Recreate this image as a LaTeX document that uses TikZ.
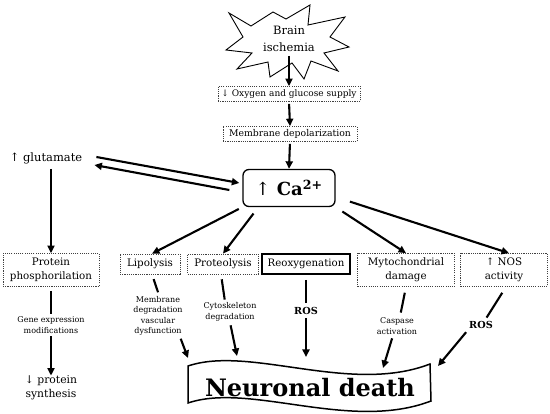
\documentclass[tikz,border=0pt]{standalone}
\usepackage{fontspec}
\setmainfont{DejaVu Serif}
\usetikzlibrary{arrows.meta}
\begin{document}
\begin{tikzpicture}[x=1pt,y=-1pt,
  dbox/.style={draw=black!75,dash pattern=on 1.1pt off 1.1pt,line width=0.7pt,inner sep=0pt,align=center,font=\fontsize{10.3}{14}\selectfont},
  lab/.style={align=center,inner sep=1pt,font=\fontsize{8}{10.5}\selectfont},
  ros/.style={inner sep=1pt,font=\fontsize{9.7}{13}\selectfont\bfseries},
  arr/.style={line width=2.1pt,-{Triangle[length=7.5pt,width=7pt]}},
  ln/.style={line width=2.1pt}]
\useasboundingbox (0,0) rectangle (550,414);

% star
\draw[line width=0.9pt,fill=white] (229,13) -- (251,26) -- (273,12) -- (286,19) -- (310,5) -- (308,25) -- (345,17) -- (330,37) -- (349,47) -- (324,53) -- (338,71) -- (311,61) -- (304,79) -- (292,63) -- (270,77) -- (268,62) -- (237,69) -- (252,53) -- (226,50) -- (243,37) -- cycle;
\node[align=center,inner sep=1pt,font=\fontsize{11.5}{17}\selectfont] (brain) at (289,39) {Brain\\ischemia};

\node[dbox,minimum width=142pt,minimum height=15pt,font=\fontsize{9}{12}\selectfont] (oxy) at (289,94) {↓ Oxygen and glucose supply};
\node[dbox,minimum width=134pt,minimum height=15pt,font=\fontsize{9.3}{12}\selectfont] (mem) at (290,134) {Membrane depolarization};
\node[draw,rounded corners=6pt,line width=1.3pt,minimum width=92pt,minimum height=37pt,inner sep=0pt,font=\fontsize{18}{20}\selectfont\bfseries] (ca) at (289,188) {{\mdseries ↑} Ca\textsuperscript{2+}};

\node[inner sep=1pt,font=\fontsize{11.5}{15}\selectfont] (glu) at (46,158) {↑ glutamate};

\node[dbox,minimum width=96pt,minimum height=33pt] (pp) at (51,270) {Protein\\phosphorilation};
\node[lab] (gene) at (51,325) {Gene expression\\modifications};
\node[align=center,inner sep=1pt,font=\fontsize{10.8}{14}\selectfont] (ps) at (51,388) {↓ protein\\synthesis};

\node[dbox,minimum width=60pt,minimum height=20pt] (lip) at (150,264) {Lipolysis};
\node[dbox,minimum width=71pt,minimum height=20pt] (prot) at (223,264) {Proteolysis};
\node[draw,line width=1.6pt,minimum width=88pt,minimum height=20pt,inner sep=0pt,font=\fontsize{10.2}{14}\selectfont] (reox) at (306,264) {Reoxygenation};
\node[dbox,minimum width=97pt,minimum height=33pt] (mito) at (406,270) {Mytochondrial\\damage};
\node[dbox,minimum width=87pt,minimum height=33pt] (nos) at (504,270) {↑ NOS\\activity};

\node[lab] (memlab) at (158,316) {Membrane\\degradation\\vascular\\dysfunction};
\node[lab] (cytlab) at (230,312) {Cytoskeleton\\degradation};
\node[ros] (ros1) at (306,311) {ROS};
\node[lab] (caslab) at (397,326) {Caspase\\activation};
\node[ros] (ros2) at (481,325) {ROS};

% banner
\draw[line width=1.5pt] (188,366) .. controls (250,345) and (350,395) .. (430,364) -- (431,401) .. controls (350,432) and (250,382) .. (188,403) -- cycle;
\node[inner sep=0pt,font=\fontsize{24}{28}\selectfont\bfseries] (nd) at (310,388) {Neuronal death};
\coordinate (nd1) at (188,358);
\coordinate (nd2) at (237,356);
\coordinate (nd3) at (306,357);
\coordinate (nd4) at (383,368);
\coordinate (nd5) at (438,366);

% connectors
\draw[arr] ([yshift=-17pt]brain.center) -- (oxy.north);
\draw[arr,shorten <=2pt] (oxy.south) -- (mem.north);
\draw[arr,shorten <=2pt] (mem.south) -- (ca.north);
\draw[arr] ([xshift=13pt,yshift=1pt]glu.east) -- ([yshift=5pt,xshift=-3pt]ca.west);
\draw[arr] ([xshift=-13pt,yshift=-2pt]ca.west) -- ([xshift=11pt,yshift=-7pt]glu.east);
\draw[arr,shorten <=4pt] (pp.north |- glu.south) -- (pp.north);
\draw[ln,shorten <=4pt,shorten >=2pt] (pp.south) -- (gene.north);
\draw[arr,shorten <=2pt] (gene.south) -- ([yshift=-1pt]ps.north);

\draw[arr,shorten <=4pt] (ca.south west) -- ([xshift=2pt]lip.north);
\draw[arr,shorten <=8pt] ([xshift=16pt]ca.south west) -- (prot.north);
\draw[arr,shorten <=8pt] (ca.south east) -- (mito.north);
\draw[arr,shorten <=15pt] ([yshift=-9pt]ca.east) -- ([xshift=5pt]nos.north);

\draw[ln,shorten <=5pt,shorten >=3pt] ([xshift=2pt]lip.south) -- ([xshift=1pt]memlab.north);
\draw[arr,shorten <=2pt] ([xshift=22pt]memlab.south) -- (nd1);
\draw[ln,shorten <=5pt,shorten >=2pt] ([xshift=-2pt]prot.south) -- ([xshift=-5pt]cytlab.north);
\draw[arr,shorten <=3pt] (cytlab.south) -- (nd2);
\draw[ln,shorten <=5pt,shorten >=3pt] (reox.south) -- (ros1.north);
\draw[arr,shorten <=2pt] (ros1.south) -- (nd3);
\draw[ln,shorten <=6pt,shorten >=4pt] (mito.south) -- ([xshift=3pt]caslab.north);
\draw[arr,shorten <=3pt] ([xshift=-4pt]caslab.south) -- (nd4);
\draw[ln,shorten <=7pt,shorten >=3pt] ([xshift=2pt]nos.south) -- ([xshift=4pt]ros2.north);
\draw[arr,shorten <=3pt] (ros2.south west) -- (nd5);
\end{tikzpicture}
\end{document}
